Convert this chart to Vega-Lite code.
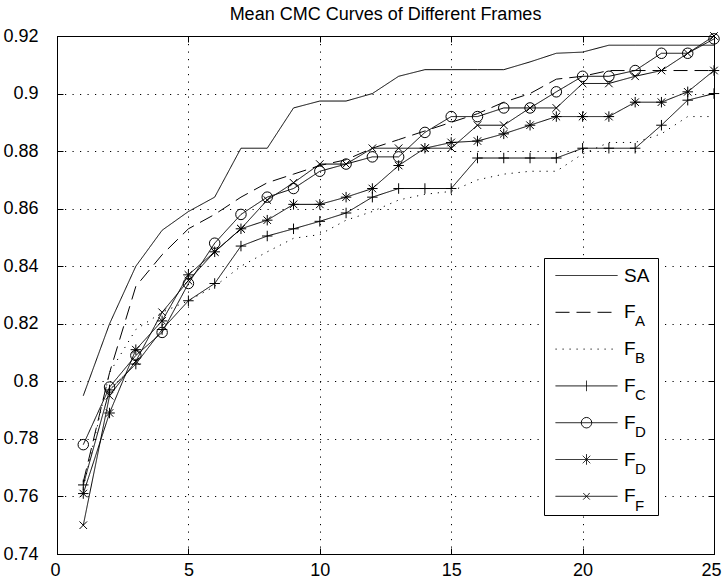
{
  "$schema": "https://vega.github.io/schema/vega-lite/v6.json",
  "autosize": {"type": "none"},
  "padding": {"left": 57, "top": 36, "right": 8, "bottom": 28},
  "width": 657,
  "height": 518,
  "background": "white",
  "title": {
    "text": "Mean CMC Curves of Different Frames",
    "font": "Liberation Sans",
    "fontSize": 18,
    "fontWeight": "normal",
    "color": "black",
    "anchor": "middle",
    "offset": 3
  },
  "datasets": {
    "legendKeys": [
      {"key": "sa"}, {"key": "fa"}, {"key": "fb"}, {"key": "fc"}, {"key": "fd"}, {"key": "fd2"}, {"key": "ff"}
    ]
  },
  "data": {
    "values": [
      {"series": "SA", "rank": 1, "rate": 0.795}, {"series": "SA", "rank": 2, "rate": 0.820}, {"series": "SA", "rank": 3, "rate": 0.840}, {"series": "SA", "rank": 4, "rate": 0.8525}, {"series": "SA", "rank": 5, "rate": 0.859},
      {"series": "SA", "rank": 6, "rate": 0.864}, {"series": "SA", "rank": 7, "rate": 0.881}, {"series": "SA", "rank": 8, "rate": 0.881}, {"series": "SA", "rank": 9, "rate": 0.895}, {"series": "SA", "rank": 10, "rate": 0.8974},
      {"series": "SA", "rank": 11, "rate": 0.8974}, {"series": "SA", "rank": 12, "rate": 0.900}, {"series": "SA", "rank": 13, "rate": 0.906}, {"series": "SA", "rank": 14, "rate": 0.9083}, {"series": "SA", "rank": 15, "rate": 0.9083},
      {"series": "SA", "rank": 16, "rate": 0.9083}, {"series": "SA", "rank": 17, "rate": 0.9083}, {"series": "SA", "rank": 18, "rate": 0.911}, {"series": "SA", "rank": 19, "rate": 0.914}, {"series": "SA", "rank": 20, "rate": 0.9144},
      {"series": "SA", "rank": 21, "rate": 0.9168}, {"series": "SA", "rank": 22, "rate": 0.9168}, {"series": "SA", "rank": 23, "rate": 0.9168}, {"series": "SA", "rank": 24, "rate": 0.9168}, {"series": "SA", "rank": 25, "rate": 0.9168},

      {"series": "FA", "rank": 1, "rate": 0.765}, {"series": "FA", "rank": 2, "rate": 0.803}, {"series": "FA", "rank": 3, "rate": 0.833}, {"series": "FA", "rank": 4, "rate": 0.844}, {"series": "FA", "rank": 5, "rate": 0.853},
      {"series": "FA", "rank": 6, "rate": 0.858}, {"series": "FA", "rank": 7, "rate": 0.864}, {"series": "FA", "rank": 8, "rate": 0.869}, {"series": "FA", "rank": 9, "rate": 0.872}, {"series": "FA", "rank": 10, "rate": 0.875},
      {"series": "FA", "rank": 11, "rate": 0.877}, {"series": "FA", "rank": 12, "rate": 0.881}, {"series": "FA", "rank": 13, "rate": 0.884}, {"series": "FA", "rank": 14, "rate": 0.887}, {"series": "FA", "rank": 15, "rate": 0.890},
      {"series": "FA", "rank": 16, "rate": 0.893}, {"series": "FA", "rank": 17, "rate": 0.897}, {"series": "FA", "rank": 18, "rate": 0.900}, {"series": "FA", "rank": 19, "rate": 0.905}, {"series": "FA", "rank": 20, "rate": 0.906},
      {"series": "FA", "rank": 21, "rate": 0.908}, {"series": "FA", "rank": 22, "rate": 0.908}, {"series": "FA", "rank": 23, "rate": 0.908}, {"series": "FA", "rank": 24, "rate": 0.908}, {"series": "FA", "rank": 25, "rate": 0.908},

      {"series": "FB", "rank": 1, "rate": 0.763}, {"series": "FB", "rank": 2, "rate": 0.803}, {"series": "FB", "rank": 3, "rate": 0.818}, {"series": "FB", "rank": 4, "rate": 0.824}, {"series": "FB", "rank": 5, "rate": 0.828},
      {"series": "FB", "rank": 6, "rate": 0.833}, {"series": "FB", "rank": 7, "rate": 0.840}, {"series": "FB", "rank": 8, "rate": 0.845}, {"series": "FB", "rank": 9, "rate": 0.8497}, {"series": "FB", "rank": 10, "rate": 0.851},
      {"series": "FB", "rank": 11, "rate": 0.856}, {"series": "FB", "rank": 12, "rate": 0.859}, {"series": "FB", "rank": 13, "rate": 0.863}, {"series": "FB", "rank": 14, "rate": 0.865}, {"series": "FB", "rank": 15, "rate": 0.866},
      {"series": "FB", "rank": 16, "rate": 0.870}, {"series": "FB", "rank": 17, "rate": 0.872}, {"series": "FB", "rank": 18, "rate": 0.873}, {"series": "FB", "rank": 19, "rate": 0.873}, {"series": "FB", "rank": 20, "rate": 0.879},
      {"series": "FB", "rank": 21, "rate": 0.883}, {"series": "FB", "rank": 22, "rate": 0.883}, {"series": "FB", "rank": 23, "rate": 0.886}, {"series": "FB", "rank": 24, "rate": 0.892}, {"series": "FB", "rank": 25, "rate": 0.892},

      {"series": "FC", "rank": 1, "rate": 0.764}, {"series": "FC", "rank": 2, "rate": 0.797}, {"series": "FC", "rank": 3, "rate": 0.806}, {"series": "FC", "rank": 4, "rate": 0.818}, {"series": "FC", "rank": 5, "rate": 0.828},
      {"series": "FC", "rank": 6, "rate": 0.834}, {"series": "FC", "rank": 7, "rate": 0.847}, {"series": "FC", "rank": 8, "rate": 0.8505}, {"series": "FC", "rank": 9, "rate": 0.853}, {"series": "FC", "rank": 10, "rate": 0.8556},
      {"series": "FC", "rank": 11, "rate": 0.8585}, {"series": "FC", "rank": 12, "rate": 0.864}, {"series": "FC", "rank": 13, "rate": 0.867}, {"series": "FC", "rank": 14, "rate": 0.867}, {"series": "FC", "rank": 15, "rate": 0.867},
      {"series": "FC", "rank": 16, "rate": 0.8776}, {"series": "FC", "rank": 17, "rate": 0.8776}, {"series": "FC", "rank": 18, "rate": 0.8776}, {"series": "FC", "rank": 19, "rate": 0.8776}, {"series": "FC", "rank": 20, "rate": 0.881},
      {"series": "FC", "rank": 21, "rate": 0.881}, {"series": "FC", "rank": 22, "rate": 0.881}, {"series": "FC", "rank": 23, "rate": 0.889}, {"series": "FC", "rank": 24, "rate": 0.8977}, {"series": "FC", "rank": 25, "rate": 0.900},

      {"series": "FD", "rank": 1, "rate": 0.778}, {"series": "FD", "rank": 2, "rate": 0.798}, {"series": "FD", "rank": 3, "rate": 0.809}, {"series": "FD", "rank": 4, "rate": 0.817}, {"series": "FD", "rank": 5, "rate": 0.834},
      {"series": "FD", "rank": 6, "rate": 0.848}, {"series": "FD", "rank": 7, "rate": 0.858}, {"series": "FD", "rank": 8, "rate": 0.864}, {"series": "FD", "rank": 9, "rate": 0.867}, {"series": "FD", "rank": 10, "rate": 0.873},
      {"series": "FD", "rank": 11, "rate": 0.8755}, {"series": "FD", "rank": 12, "rate": 0.878}, {"series": "FD", "rank": 13, "rate": 0.878}, {"series": "FD", "rank": 14, "rate": 0.8865}, {"series": "FD", "rank": 15, "rate": 0.892},
      {"series": "FD", "rank": 16, "rate": 0.892}, {"series": "FD", "rank": 17, "rate": 0.895}, {"series": "FD", "rank": 18, "rate": 0.895}, {"series": "FD", "rank": 19, "rate": 0.9006}, {"series": "FD", "rank": 20, "rate": 0.906},
      {"series": "FD", "rank": 21, "rate": 0.906}, {"series": "FD", "rank": 22, "rate": 0.908}, {"series": "FD", "rank": 23, "rate": 0.914}, {"series": "FD", "rank": 24, "rate": 0.914}, {"series": "FD", "rank": 25, "rate": 0.919},

      {"series": "FD2", "rank": 1, "rate": 0.761}, {"series": "FD2", "rank": 2, "rate": 0.789}, {"series": "FD2", "rank": 3, "rate": 0.811}, {"series": "FD2", "rank": 4, "rate": 0.821}, {"series": "FD2", "rank": 5, "rate": 0.837},
      {"series": "FD2", "rank": 6, "rate": 0.845}, {"series": "FD2", "rank": 7, "rate": 0.853}, {"series": "FD2", "rank": 8, "rate": 0.856}, {"series": "FD2", "rank": 9, "rate": 0.8615}, {"series": "FD2", "rank": 10, "rate": 0.8615},
      {"series": "FD2", "rank": 11, "rate": 0.864}, {"series": "FD2", "rank": 12, "rate": 0.867}, {"series": "FD2", "rank": 13, "rate": 0.875}, {"series": "FD2", "rank": 14, "rate": 0.881}, {"series": "FD2", "rank": 15, "rate": 0.883},
      {"series": "FD2", "rank": 16, "rate": 0.8835}, {"series": "FD2", "rank": 17, "rate": 0.886}, {"series": "FD2", "rank": 18, "rate": 0.889}, {"series": "FD2", "rank": 19, "rate": 0.892}, {"series": "FD2", "rank": 20, "rate": 0.892},
      {"series": "FD2", "rank": 21, "rate": 0.892}, {"series": "FD2", "rank": 22, "rate": 0.897}, {"series": "FD2", "rank": 23, "rate": 0.897}, {"series": "FD2", "rank": 24, "rate": 0.9006}, {"series": "FD2", "rank": 25, "rate": 0.908},

      {"series": "FF", "rank": 1, "rate": 0.750}, {"series": "FF", "rank": 2, "rate": 0.795}, {"series": "FF", "rank": 3, "rate": 0.807}, {"series": "FF", "rank": 4, "rate": 0.824}, {"series": "FF", "rank": 5, "rate": 0.835},
      {"series": "FF", "rank": 6, "rate": 0.845}, {"series": "FF", "rank": 7, "rate": 0.853}, {"series": "FF", "rank": 8, "rate": 0.863}, {"series": "FF", "rank": 9, "rate": 0.869}, {"series": "FF", "rank": 10, "rate": 0.8755},
      {"series": "FF", "rank": 11, "rate": 0.8755}, {"series": "FF", "rank": 12, "rate": 0.881}, {"series": "FF", "rank": 13, "rate": 0.881}, {"series": "FF", "rank": 14, "rate": 0.881}, {"series": "FF", "rank": 15, "rate": 0.881},
      {"series": "FF", "rank": 16, "rate": 0.889}, {"series": "FF", "rank": 17, "rate": 0.889}, {"series": "FF", "rank": 18, "rate": 0.895}, {"series": "FF", "rank": 19, "rate": 0.895}, {"series": "FF", "rank": 20, "rate": 0.9035},
      {"series": "FF", "rank": 21, "rate": 0.9035}, {"series": "FF", "rank": 22, "rate": 0.906}, {"series": "FF", "rank": 23, "rate": 0.908}, {"series": "FF", "rank": 24, "rate": 0.914}, {"series": "FF", "rank": 25, "rate": 0.920}
    ]
  },
  "resolve": {
    "axis": {"x": "independent", "y": "independent"},
    "scale": {"shape": "independent", "strokeDash": "independent", "fill": "independent"}
  },
  "layer": [
    {
      "mark": {"type": "line", "color": "black", "strokeWidth": 1},
      "encoding": {
        "x": {
          "field": "rank", "type": "quantitative",
          "scale": {"domain": [0, 25], "nice": false, "zero": false},
          "axis": {
            "orient": "bottom", "title": null, "values": [0, 5, 10, 15, 20, 25],
            "grid": true, "tickSize": -6, "labelPadding": 13, "labelFlush": true, "labelFlushOffset": 7
          }
        },
        "y": {
          "field": "rate", "type": "quantitative",
          "scale": {"domain": [0.74, 0.92], "nice": false, "zero": false},
          "axis": {
            "orient": "left", "title": null,
            "values": [0.74, 0.76, 0.78, 0.8, 0.82, 0.84, 0.86, 0.88, 0.9, 0.92],
            "format": ".2~f", "grid": true, "tickSize": -6, "labelPadding": 25, "labelFlush": false
          }
        },
        "strokeDash": {
          "field": "series", "type": "nominal",
          "scale": {
            "domain": ["SA", "FA", "FB", "FC", "FD", "FD2", "FF"],
            "range": [[1, 0], [14, 7], [1.2, 5.8], [1, 0], [1, 0], [1, 0], [1, 0]]
          },
          "legend": null
        }
      }
    },
    {
      "data": {"name": "legendKeys"},
      "mark": {"type": "point", "filled": false, "color": "black", "opacity": 0, "size": 0},
      "encoding": {
        "shape": {
          "field": "key", "type": "nominal",
          "scale": {
            "domain": ["sa", "fa", "fb", "fc", "fd", "fd2", "ff"],
            "range": [
              "M-6.2,0L6.2,0",
              "M-6.2,0L6.2,0",
              "M-6.2,0L6.2,0",
              "M-6.2,0L6.2,0M0,-1.05L0,1.05",
              "M-6.2,0L6.2,0M1.05,0L0.97,0.4L0.74,0.74L0.4,0.97L0,1.05L-0.4,0.97L-0.74,0.74L-0.97,0.4L-1.05,0L-0.97,-0.4L-0.74,-0.74L-0.4,-0.97L0,-1.05L0.4,-0.97L0.74,-0.74L0.97,-0.4Z",
              "M-6.2,0L6.2,0M0,-1.05L0,1.05M-0.75,-0.75L0.75,0.75M-0.75,0.75L0.75,-0.75",
              "M-6.2,0L6.2,0M-0.65,-0.65L0.65,0.65M-0.65,0.65L0.65,-0.65"
            ]
          },
          "legend": {
            "orient": "none", "legendX": 487, "legendY": 222, "direction": "vertical",
            "title": null, "padding": 8, "strokeColor": "black", "fillColor": "white",
            "symbolSize": 100, "symbolStrokeWidth": 1, "symbolStrokeColor": "black",
            "symbolFillColor": "transparent", "symbolOpacity": 1,
            "symbolOffset": 25, "labelOffset": 28, "rowPadding": 16.8,
            "labelFont": "Liberation Sans", "labelFontSize": 19, "labelColor": "black",
            "labelExpr": "datum.value === 'sa' ? 'SA' : 'F'"
          }
        },
        "strokeDash": {
          "field": "key", "type": "nominal",
          "scale": {
            "domain": ["sa", "fa", "fb", "fc", "fd", "fd2", "ff"],
            "range": [[1, 0], [14, 7], [1.2, 5.8], [1, 0], [1, 0], [1, 0], [1, 0]]
          },
          "legend": {
            "orient": "none", "legendX": 487, "legendY": 222, "direction": "vertical",
            "title": null, "padding": 8, "strokeColor": "black", "fillColor": "white",
            "symbolSize": 100, "symbolStrokeWidth": 1, "symbolStrokeColor": "black",
            "symbolFillColor": "transparent", "symbolOpacity": 1,
            "symbolOffset": 25, "labelOffset": 28, "rowPadding": 16.8,
            "labelFont": "Liberation Sans", "labelFontSize": 19, "labelColor": "black",
            "labelExpr": "datum.value === 'sa' ? 'SA' : 'F'"
          }
        }
      }
    },
    {
      "mark": {"type": "point", "filled": false, "color": "black", "strokeWidth": 1, "size": 110, "opacity": 1},
      "encoding": {
        "x": {
          "field": "rank", "type": "quantitative",
          "axis": {"orient": "top", "title": null, "values": [0, 5, 10, 15, 20, 25], "labels": false, "grid": false, "tickSize": -6}
        },
        "y": {
          "field": "rate", "type": "quantitative",
          "axis": {
            "orient": "right", "title": null,
            "values": [0.74, 0.76, 0.78, 0.8, 0.82, 0.84, 0.86, 0.88, 0.9, 0.92],
            "labels": false, "grid": false, "tickSize": -6
          }
        },
        "shape": {
          "field": "series", "type": "nominal",
          "scale": {
            "domain": ["SA", "FA", "FB", "FC", "FD", "FD2", "FF"],
            "range": [
              "M0,0", "M0,0", "M0,0",
              "M-1,0L1,0M0,-1L0,1",
              "circle",
              "M-1,0L1,0M0,-1L0,1M-0.72,-0.72L0.72,0.72M-0.72,0.72L0.72,-0.72",
              "M-0.72,-0.72L0.72,0.72M-0.72,0.72L0.72,-0.72"
            ]
          },
          "legend": null
        },
        "fill": {
          "field": "series", "type": "nominal",
          "sort": ["SA", "FA", "FB", "FC", "FD", "FD2", "FF"],
          "scale": {"range": ["transparent", "transparent", "transparent", "transparent", "transparent", "transparent", "transparent"]},
          "legend": {
            "orient": "none", "legendX": 563, "legendY": 240, "direction": "vertical",
            "title": null, "padding": 0, "symbolSize": 100, "symbolStrokeWidth": 1,
            "symbolOffset": 0, "labelOffset": 0, "rowPadding": 21.0, "symbolOpacity": 0,
            "labelFont": "Liberation Sans", "labelFontSize": 15, "labelColor": "black",
            "labelExpr": "datum.value === 'SA' ? '' : datum.value === 'FA' ? 'A' : datum.value === 'FB' ? 'B' : datum.value === 'FC' ? 'C' : datum.value === 'FF' ? 'F' : 'D'"
          }
        }
      }
    }
  ],
  "config": {
    "font": "Liberation Sans",
    "view": {"stroke": "black", "strokeWidth": 1},
    "axis": {
      "domainColor": "black", "domainWidth": 1,
      "tickColor": "black", "tickWidth": 1,
      "labelFont": "Liberation Sans", "labelFontSize": 18, "labelColor": "black",
      "gridColor": "black", "gridOpacity": 1, "gridWidth": 1, "gridDash": [1.2, 6.3]
    }
  }
}
